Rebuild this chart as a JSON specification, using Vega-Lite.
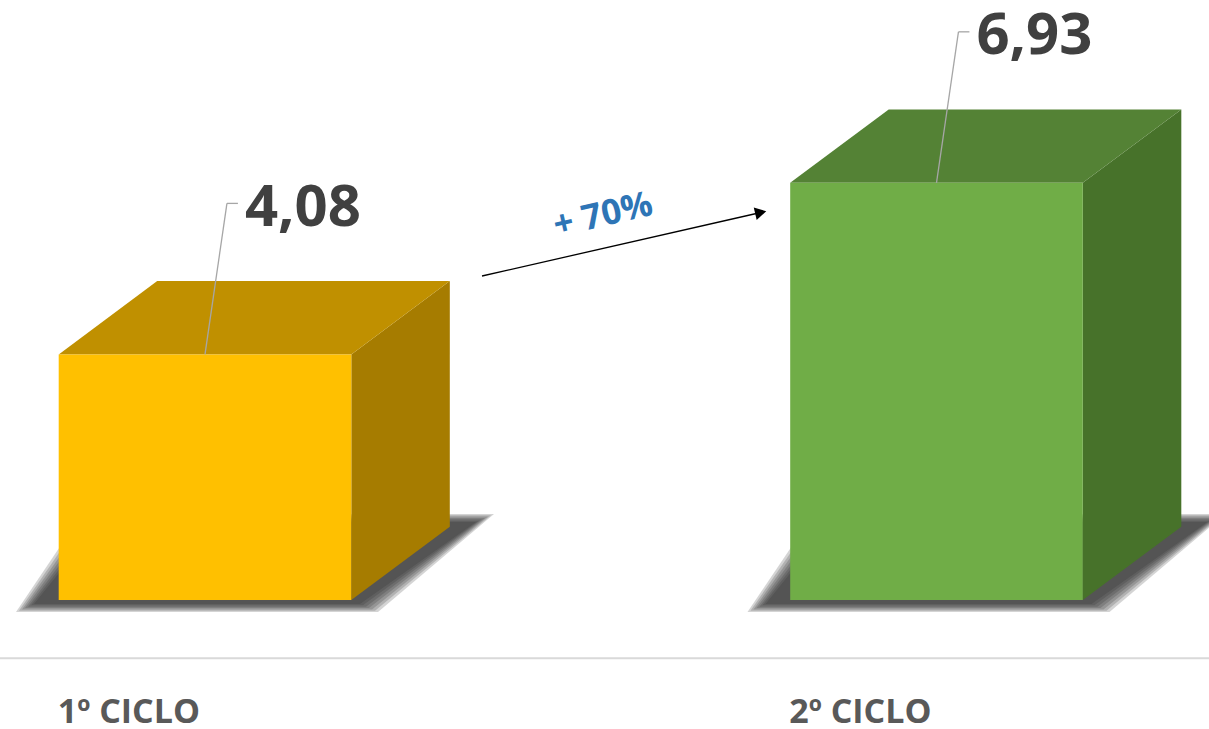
{
  "$schema": "https://vega.github.io/schema/vega-lite/v6.json",
  "width": 1209,
  "height": 729,
  "padding": 0,
  "autosize": {"type": "none"},
  "background": "white",
  "config": {"view": {"stroke": null}, "font": "Open Sans"},
  "data": {"values": [
    {"ciclo": "1º CICLO", "valor": 4.08},
    {"ciclo": "2º CICLO", "valor": 6.93}
  ]},
  "transform": [
    {"window": [{"op": "row_number", "as": "rn"}]},
    {"calculate": "datum.rn - 1", "as": "i"}
  ],
  "resolve": {"scale": {"fill": "independent"}},
  "layer": [
    {
      "transform": [
        {"calculate": "[0, 3, 6, 9, 12, 15, 18]", "as": "e"},
        {"flatten": ["e"]},
        {"calculate": "[0, 1, 2, 3]", "as": "k"},
        {"flatten": ["k"]},
        {"calculate": "datum.i + ([34 - datum.e, 100 - datum.e, 360 + datum.e, 476 + datum.e][datum.k] - 205) / 731.5", "as": "sx"},
        {"calculate": "(600 - [604 + 0.45 * datum.e, 522 - 0.45 * datum.e, 522 - 0.45 * datum.e, 522 - 0.45 * datum.e][datum.k]) / 60.2", "as": "sy"},
        {"calculate": "(600 - [604 + 0.45 * datum.e, 604 + 0.45 * datum.e, 604 + 0.45 * datum.e, 522 - 0.45 * datum.e][datum.k]) / 60.2", "as": "sy2"}
      ],
      "mark": {"type": "area", "color": "#2a2a2a", "opacity": 0.2, "interpolate": "linear"},
      "encoding": {
        "x": {"field": "sx", "type": "quantitative", "scale": {"domain": [-0.28024, 1.37252], "nice": false, "zero": false}, "axis": null},
        "y": {"field": "sy", "type": "quantitative", "scale": {"domain": [-2.1429, 9.9668], "nice": false, "zero": false}, "axis": null},
        "y2": {"field": "sy2"},
        "detail": [{"field": "ciclo"}, {"field": "e"}]
      }
    },
    {
      "transform": [
        {"calculate": "[0, 1]", "as": "k"},
        {"flatten": ["k"]},
        {"calculate": "datum.i + 0.2 + 0.13466 * datum.k", "as": "sx"},
        {"calculate": "datum.valor + 1.2176 * datum.k", "as": "sy"},
        {"calculate": "1.2176 * datum.k", "as": "sy2"}
      ],
      "mark": {"type": "area", "interpolate": "linear"},
      "encoding": {
        "x": {"field": "sx", "type": "quantitative", "scale": {"domain": [-0.28024, 1.37252], "nice": false, "zero": false}, "axis": null},
        "y": {"field": "sy", "type": "quantitative", "scale": {"domain": [-2.1429, 9.9668], "nice": false, "zero": false}, "axis": null},
        "y2": {"field": "sy2"},
        "fill": {"field": "ciclo", "type": "nominal", "scale": {"domain": ["1º CICLO", "2º CICLO"], "range": ["#A67C00", "#47722A"]}, "legend": null}
      }
    },
    {
      "transform": [
        {"calculate": "[0, 1, 2, 3]", "as": "k"},
        {"flatten": ["k"]},
        {"calculate": "datum.i - 0.2 + [0, 0.13466, 0.4, 0.53466][datum.k]", "as": "sx"},
        {"calculate": "datum.valor + [0, 1.2176, 1.2176, 1.2176][datum.k]", "as": "sy"},
        {"calculate": "datum.valor + [0, 0, 0, 1.2176][datum.k]", "as": "sy2"}
      ],
      "mark": {"type": "area", "interpolate": "linear"},
      "encoding": {
        "x": {"field": "sx", "type": "quantitative", "scale": {"domain": [-0.28024, 1.37252], "nice": false, "zero": false}, "axis": null},
        "y": {"field": "sy", "type": "quantitative", "scale": {"domain": [-2.1429, 9.9668], "nice": false, "zero": false}, "axis": null},
        "y2": {"field": "sy2"},
        "fill": {"field": "ciclo", "type": "nominal", "scale": {"domain": ["1º CICLO", "2º CICLO"], "range": ["#C09000", "#548235"]}, "legend": null}
      }
    },
    {
      "transform": [
        {"calculate": "datum.i - 0.2", "as": "sx"},
        {"calculate": "datum.i + 0.2", "as": "sx2"}
      ],
      "mark": {"type": "rect"},
      "encoding": {
        "x": {"field": "sx", "type": "quantitative", "scale": {"domain": [-0.28024, 1.37252], "nice": false, "zero": false}, "axis": null},
        "x2": {"field": "sx2"},
        "y": {"field": "valor", "type": "quantitative", "scale": {"domain": [-2.1429, 9.9668], "nice": false, "zero": false}, "axis": null},
        "y2": {"datum": 0},
        "fill": {"field": "ciclo", "type": "nominal", "scale": {"domain": ["1º CICLO", "2º CICLO"], "range": ["#FFC000", "#70AD47"]}, "legend": null}
      }
    },
    {
      "transform": [
        {"calculate": "datum.i + 0.03", "as": "sx2"},
        {"calculate": "datum.valor + 2.508", "as": "sy2"}
      ],
      "mark": {"type": "rule", "color": "#A6A6A6", "strokeWidth": 1.3},
      "encoding": {
        "x": {"field": "i", "type": "quantitative", "scale": {"domain": [-0.28024, 1.37252], "nice": false, "zero": false}, "axis": null},
        "x2": {"field": "sx2"},
        "y": {"field": "valor", "type": "quantitative", "scale": {"domain": [-2.1429, 9.9668], "nice": false, "zero": false}, "axis": null},
        "y2": {"field": "sy2"}
      }
    },
    {
      "transform": [
        {"calculate": "datum.i + 0.03", "as": "sx"},
        {"calculate": "datum.i + 0.045", "as": "sx2"},
        {"calculate": "datum.valor + 2.508", "as": "sy"}
      ],
      "mark": {"type": "rule", "color": "#A6A6A6", "strokeWidth": 1.3},
      "encoding": {
        "x": {"field": "sx", "type": "quantitative", "scale": {"domain": [-0.28024, 1.37252], "nice": false, "zero": false}, "axis": null},
        "x2": {"field": "sx2"},
        "y": {"field": "sy", "type": "quantitative", "scale": {"domain": [-2.1429, 9.9668], "nice": false, "zero": false}, "axis": null}
      }
    },
    {
      "transform": [
        {"calculate": "datum.i + 0.045", "as": "sx"},
        {"calculate": "datum.valor + 2.508", "as": "sy"},
        {"calculate": "replace(format(datum.valor, '.2f'), '.', ',')", "as": "lbl"}
      ],
      "mark": {"type": "text", "align": "left", "baseline": "alphabetic", "dx": 7, "dy": 22.5, "fontSize": 58, "fontWeight": "bold", "color": "#404040", "font": "Open Sans"},
      "encoding": {
        "x": {"field": "sx", "type": "quantitative", "scale": {"domain": [-0.28024, 1.37252], "nice": false, "zero": false}, "axis": null},
        "y": {"field": "sy", "type": "quantitative", "scale": {"domain": [-2.1429, 9.9668], "nice": false, "zero": false}, "axis": null},
        "text": {"field": "lbl"}
      }
    },
    {
      "transform": [{"filter": "datum.i == 0"}],
      "mark": {"type": "rule", "color": "#000000", "strokeWidth": 1.3},
      "encoding": {
        "x": {"datum": 0.3787, "type": "quantitative", "scale": {"domain": [-0.28024, 1.37252], "nice": false, "zero": false}, "axis": null},
        "x2": {"datum": 0.7597},
        "y": {"datum": 5.382, "type": "quantitative", "scale": {"domain": [-2.1429, 9.9668], "nice": false, "zero": false}, "axis": null},
        "y2": {"datum": 6.437}
      }
    },
    {
      "transform": [{"filter": "datum.i == 0"}],
      "mark": {"type": "point", "shape": "triangle-right", "size": 170, "filled": true, "color": "#000000", "opacity": 1, "angle": 347},
      "encoding": {
        "x": {"datum": 0.7597, "type": "quantitative", "scale": {"domain": [-0.28024, 1.37252], "nice": false, "zero": false}, "axis": null},
        "y": {"datum": 6.437, "type": "quantitative", "scale": {"domain": [-2.1429, 9.9668], "nice": false, "zero": false}, "axis": null}
      }
    },
    {
      "transform": [{"filter": "datum.i == 0"}],
      "mark": {"type": "text", "text": "+ 70%", "align": "center", "baseline": "middle", "angle": 347, "fontSize": 35, "fontWeight": "bold", "color": "#2E75B6", "font": "Open Sans"},
      "encoding": {
        "x": {"datum": 0.5441, "type": "quantitative", "scale": {"domain": [-0.28024, 1.37252], "nice": false, "zero": false}, "axis": null},
        "y": {"datum": 6.395, "type": "quantitative", "scale": {"domain": [-2.1429, 9.9668], "nice": false, "zero": false}, "axis": null}
      }
    },
    {
      "transform": [{"filter": "datum.i == 0"}],
      "mark": {"type": "rule", "color": "#D9D9D9", "strokeWidth": 2},
      "encoding": {
        "y": {"datum": -0.968, "type": "quantitative", "scale": {"domain": [-2.1429, 9.9668], "nice": false, "zero": false}, "axis": null}
      }
    },
    {
      "transform": [{"calculate": "datum.i - 0.2", "as": "sx"}],
      "mark": {"type": "text", "align": "left", "baseline": "alphabetic", "dx": -1, "fontSize": 34, "fontWeight": "bold", "color": "#595959", "font": "Open Sans"},
      "encoding": {
        "x": {"field": "sx", "type": "quantitative", "scale": {"domain": [-0.28024, 1.37252], "nice": false, "zero": false}, "axis": null},
        "y": {"datum": -2.048, "type": "quantitative", "scale": {"domain": [-2.1429, 9.9668], "nice": false, "zero": false}, "axis": null},
        "text": {"field": "ciclo"}
      }
    }
  ]
}
